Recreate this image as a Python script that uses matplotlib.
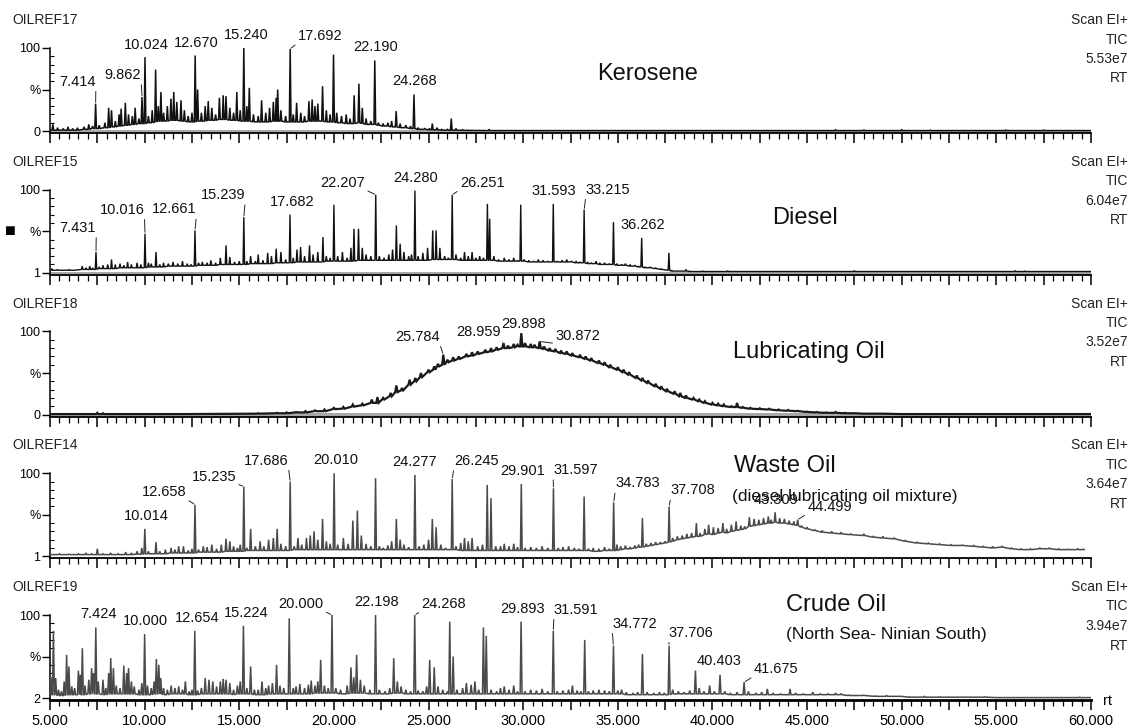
import matplotlib
matplotlib.use('Agg')
import matplotlib.pyplot as plt
from matplotlib.ticker import MultipleLocator, FuncFormatter

plt.rcParams['font.family'] = ['Liberation Sans', 'DejaVu Sans']

W, H = 1133, 727

# ---- data: retention time, local baseline, peak top (% of panel max) ----
kero_rt = [5.00, 5.15, 5.40, 5.70, 5.95, 6.20, 6.45, 6.80, 7.05, 7.25, 7.41, 7.60, 7.90, 8.10, 8.25,
           8.45, 8.65, 8.76, 8.98, 9.15, 9.35, 9.50, 9.70, 9.86, 10.02, 10.20, 10.40, 10.58, 10.72,
           10.86, 11.00, 11.20, 11.39, 11.54, 11.70, 11.92, 12.10, 12.30, 12.50, 12.67, 12.80, 13.00,
           13.20, 13.36, 13.55, 13.75, 13.95, 14.15, 14.30, 14.50, 14.70, 14.87, 15.05, 15.24, 15.40,
           15.53, 15.75, 16.00, 16.18, 16.40, 16.60, 16.80, 16.95, 17.03, 17.20, 17.45, 17.69, 17.85,
           18.03, 18.25, 18.45, 18.68, 18.85, 19.00, 19.15, 19.40, 19.60, 19.80, 19.98, 20.15, 20.40,
           20.65, 20.85, 21.07, 21.32, 21.50, 21.70, 21.95, 22.16, 22.35, 22.60, 22.85, 23.05, 23.29,
           23.50, 23.80, 24.05, 24.23, 24.45, 24.80, 25.05, 25.20, 25.45, 25.70, 26.00, 26.20, 26.45,
           26.80, 28.20, 30.00, 45.00, 46.50, 48.00, 50.00, 51.50, 55.50, 57.50, 60.00]
kero_base = [1, 1, 1, 1, 1, 1, 1, 2, 2, 3, 3, 3, 4, 4, 5,
             5, 6, 6, 7, 7, 8, 8, 9, 9, 9, 10, 10, 11, 12,
             12, 12, 12, 13, 13, 13, 12, 12, 11, 11, 11, 12, 12,
             12, 13, 13, 13, 14, 14, 14, 13, 13, 13, 12, 12, 12,
             12, 11, 11, 11, 11, 11, 12, 12, 12, 12, 11, 11, 11,
             11, 11, 11, 12, 12, 12, 12, 12, 11, 11, 11, 10, 10,
             9, 9, 9, 10, 9, 8, 8, 8, 7, 6, 6, 5, 5,
             4, 4, 3, 3, 2, 2, 1.5, 1.5, 1.5, 1, 1, 1, 1,
             0.8, 0.5, 0.5, 0.5, 0.5, 0.5, 0.5, 0.5, 0.5, 0.5, 0.5]
kero_top = [1, 8, 4, 3, 5, 3, 4, 5, 8, 6, 33, 7, 10, 28, 25,
            12, 20, 27, 34, 20, 18, 28, 15, 41, 89, 18, 25, 74, 30,
            47, 22, 30, 39, 47, 35, 37, 25, 18, 22, 91, 50, 22,
            30, 36, 28, 20, 40, 43, 42, 28, 22, 47, 25, 100, 30,
            52, 20, 18, 37, 22, 28, 35, 40, 50, 25, 18, 99, 20,
            34, 22, 18, 36, 38, 30, 33, 54, 25, 20, 92, 22, 18,
            20, 15, 43, 57, 28, 15, 12, 85, 10, 9, 10, 12, 24,
            9, 7, 6, 44, 4, 3, 3, 9, 4, 2, 2, 15, 3,
            1.5, 2, 0.5, 0.5, 1.5, 1.2, 1.5, 1, 1.2, 1.2, 0.5]
kero_lab = ['7.414', '9.862', '10.024', '12.670', '15.240', '17.692', '22.190', '24.268']

dies_rt = [5.00, 5.10, 5.40, 5.70, 6.00, 6.30, 6.70, 6.90, 7.10, 7.25, 7.43, 7.60, 7.80, 8.05, 8.25,
           8.45, 8.70, 8.90, 9.10, 9.30, 9.60, 9.80, 10.02, 10.20, 10.35, 10.60, 10.80, 11.00, 11.25,
           11.50, 11.75, 12.00, 12.25, 12.45, 12.66, 12.85, 13.05, 13.30, 13.50, 13.75, 14.00, 14.30,
           14.50, 14.75, 15.00, 15.24, 15.40, 15.60, 15.85, 16.00, 16.25, 16.50, 16.70, 16.95, 17.20,
           17.45, 17.68, 17.85, 18.05, 18.24, 18.45, 18.71, 18.90, 19.15, 19.42, 19.60, 19.80, 20.00,
           20.20, 20.45, 20.70, 20.90, 21.06, 21.30, 21.50, 21.70, 21.95, 22.21, 22.40, 22.65, 22.90,
           23.10, 23.30, 23.50, 23.70, 23.95, 24.10, 24.28, 24.45, 24.70, 24.95, 25.22, 25.40, 25.60,
           25.85, 26.05, 26.25, 26.45, 26.70, 26.90, 27.10, 27.30, 27.50, 27.70, 27.90, 28.11, 28.23,
           28.45, 28.70, 29.00, 29.25, 29.50, 29.70, 29.87, 30.05, 30.30, 30.55, 30.80, 31.05, 31.30,
           31.59, 31.80, 32.05, 32.30, 32.55, 32.80, 33.00, 33.22, 33.40, 33.60, 33.85, 34.05, 34.30,
           34.55, 34.77, 34.95, 35.20, 35.40, 35.65, 35.90, 36.10, 36.26, 36.45, 36.70, 37.00, 37.30,
           37.70, 37.85, 38.10, 38.60, 38.80, 39.50, 40.80, 42.00, 47.50, 48.00, 56.00, 56.50, 60.00]
dies_base = [3, 3, 3, 3, 3, 3, 4, 4, 4, 4, 4, 5, 5, 5, 5,
             5, 6, 6, 6, 6, 6, 6, 6, 7, 7, 7, 7, 7, 8,
             8, 8, 8, 8, 8, 8, 9, 9, 9, 9, 9, 10, 10,
             10, 10, 10, 10, 10, 11, 11, 11, 11, 11, 11, 12, 12,
             12, 12, 12, 13, 13, 13, 13, 13, 13, 13, 14, 14, 14,
             14, 14, 14, 14, 14, 15, 15, 15, 15, 15, 15, 15, 15,
             15, 15, 15, 15, 15, 15, 15, 15, 15, 15, 16, 16, 16,
             16, 16, 16, 16, 15, 15, 15, 15, 15, 15, 15, 15, 15,
             15, 14, 14, 14, 14, 14, 14, 14, 13, 13, 13, 13, 13,
             13, 13, 13, 13, 13, 12, 12, 12, 11, 11, 11, 10, 10,
             10, 10, 9, 9, 9, 8, 8, 7, 7, 6, 6, 5, 4,
             3, 2, 2, 2, 1.5, 1.5, 1.5, 1.5, 1.5, 1.5, 1.5, 1.5, 1.5]
dies_top = [3, 5, 4, 3, 4, 3, 8, 6, 8, 6, 25, 7, 9, 10, 16,
            10, 11, 9, 13, 10, 12, 10, 47, 12, 11, 25, 10, 12, 11,
            13, 11, 14, 11, 10, 51, 12, 13, 12, 15, 12, 18, 33,
            19, 13, 14, 67, 14, 20, 14, 22, 15, 24, 20, 29, 25,
            16, 70, 18, 28, 31, 20, 33, 22, 25, 43, 20, 18, 82,
            20, 25, 18, 30, 53, 53, 30, 22, 20, 94, 20, 18, 22,
            28, 57, 35, 25, 20, 22, 99, 20, 24, 30, 51, 51, 30,
            20, 18, 94, 22, 18, 25, 20, 25, 18, 20, 18, 83, 65,
            20, 16, 18, 16, 18, 15, 82, 16, 15, 14, 16, 15, 14,
            83, 14, 15, 16, 14, 14, 13, 76, 13, 12, 14, 12, 12,
            11, 61, 11, 10, 11, 10, 9, 8, 42, 7, 7, 6, 5,
            24, 3, 2, 4, 2, 2, 2.5, 1.5, 2.5, 1.5, 2.5, 2, 1.5]
dies_lab = ['7.431', '10.016', '12.661', '15.239', '17.682', '22.207', '24.280', '26.251',
            '31.593', '33.215', '36.262']

lube_rt = [5.0, 7.3, 7.5, 7.8, 8.2, 12.0, 15.0, 16.0, 17.0, 17.5, 18.0, 18.5, 19.0, 19.5, 20.0,
           20.5, 21.0, 21.5, 22.0, 22.3, 22.6, 23.0, 23.3, 23.6, 24.0, 24.3, 24.6, 25.0, 25.3, 25.5,
           25.78, 26.0, 26.3, 26.6, 27.0, 27.3, 27.6, 28.0, 28.3, 28.6, 28.96, 29.2, 29.5, 29.7, 29.9,
           30.1, 30.4, 30.6, 30.87, 31.1, 31.4, 31.7, 32.0, 32.3, 32.6, 33.0, 33.3, 33.6, 34.0, 34.3,
           34.6, 35.0, 35.3, 35.6, 36.0, 36.3, 36.6, 37.0, 37.3, 37.6, 38.0, 38.3, 38.6, 39.0, 39.3,
           39.6, 40.0, 40.3, 40.6, 41.0, 41.3, 41.6, 42.0, 42.5, 43.0, 43.5, 44.0, 44.5, 45.0, 45.5,
           46.0, 46.5, 47.0, 47.5, 48.0, 49.0, 50.0, 60.0]
lube_base = [0.5, 0.5, 0.5, 0.5, 0.5, 0.5, 0.8, 1.0, 1.5, 1.5, 2.5, 2.5, 4, 4, 6.5,
             7, 9.5, 11, 14, 14, 18, 22, 27, 29, 36, 40, 45, 51, 54, 58,
             60, 63, 65, 67, 70, 71, 73, 75, 76, 78, 80, 80, 81, 82, 82,
             82, 81, 81, 80, 79, 77, 76, 74, 73, 71, 69, 67, 65, 62, 60,
             57, 54, 51, 48, 44, 41, 38, 34, 31, 28, 25, 22, 20, 18, 16,
             14, 12, 11, 10, 9, 9, 8, 7, 6.5, 6, 5, 4.5, 4, 3, 2.5,
             2, 2, 1.5, 1.5, 1, 1, 0.5, 0.5]
lube_top = [0.5, 0.5, 2, 1.5, 0.5, 0.5, 0.8, 1.5, 2, 2.5, 3, 4, 5, 6, 8,
            9, 12, 13, 18, 21, 20, 26, 35, 32, 42, 44, 50, 54, 58, 61,
            72, 66, 69, 70, 73, 75, 76, 78, 80, 81, 86, 83, 85, 84, 98,
            86, 85, 84, 88, 82, 80, 79, 77, 76, 74, 72, 70, 68, 65, 63,
            60, 57, 54, 51, 47, 44, 41, 37, 34, 31, 28, 26, 23, 20, 18,
            16, 14, 13, 12, 10, 14, 9, 8, 7.5, 7, 6, 5.5, 4.5, 3.5, 3,
            2.5, 3, 2, 1.5, 1, 1, 0.5, 0.5]
lube_lab = ['25.784', '28.959', '29.898', '30.872']

waste_rt = [5.00, 5.50, 6.00, 6.50, 6.90, 7.20, 7.50, 7.80, 8.20, 8.60, 9.00, 9.30, 9.60, 9.85, 10.01,
            10.20, 10.60, 10.80, 11.10, 11.40, 11.60, 11.80, 12.05, 12.30, 12.50, 12.66, 12.85, 13.10,
            13.30, 13.55, 13.80, 14.05, 14.30, 14.50, 14.70, 14.90, 15.05, 15.24, 15.40, 15.60, 15.85,
            16.10, 16.30, 16.55, 16.80, 17.00, 17.20, 17.45, 17.69, 17.90, 18.10, 18.30, 18.55, 18.75,
            18.95, 19.15, 19.40, 19.60, 19.80, 20.01, 20.20, 20.50, 20.75, 21.00, 21.24, 21.45, 21.70,
            21.95, 22.20, 22.40, 22.60, 22.85, 23.05, 23.30, 23.50, 23.70, 23.95, 24.28, 24.50, 24.75,
            25.00, 25.20, 25.40, 25.65, 25.90, 26.25, 26.45, 26.70, 26.90, 27.10, 27.30, 27.60, 27.85,
            28.10, 28.30, 28.55, 28.80, 29.00, 29.25, 29.50, 29.70, 29.90, 30.10, 30.40, 30.70, 31.00,
            31.30, 31.60, 31.85, 32.10, 32.40, 32.70, 32.95, 33.22, 33.45, 33.70, 34.00, 34.30, 34.55,
            34.78, 34.95, 35.15, 35.40, 35.65, 35.90, 36.10, 36.30, 36.50, 36.75, 37.00, 37.25, 37.50,
            37.71, 37.90, 38.15, 38.40, 38.65, 38.90, 39.15, 39.35, 39.60, 39.80, 40.05, 40.30, 40.55,
            40.75, 41.00, 41.25, 41.50, 41.70, 41.95, 42.20, 42.45, 42.70, 42.95, 43.10, 43.31, 43.55,
            43.80, 44.05, 44.30, 44.50, 44.70, 45.00, 45.40, 45.80, 46.30, 46.80, 47.30, 48.00, 48.50,
            49.00, 49.60, 50.20, 50.80, 51.40, 52.00, 52.60, 53.20, 53.80, 54.30, 54.80, 55.30, 55.80,
            56.30, 56.80, 57.30, 57.80, 58.30, 58.80, 59.30, 59.60]
waste_base = [2, 2, 2, 2, 2, 2, 2, 2, 2, 2, 2, 2, 2.5, 2.5, 3,
              3, 3, 3, 3, 4, 4, 4, 4, 4, 4, 4, 5, 5,
              5, 5, 5, 5, 6, 6, 6, 6, 6, 6, 7, 7, 7,
              7, 7, 7, 7, 7, 7, 7, 7, 8, 8, 8, 8, 8,
              8, 8, 8, 8, 8, 8, 8, 8, 8, 8, 8, 8, 8,
              8, 8, 8, 8, 8, 8, 8, 8, 8, 8, 8, 8, 8,
              8, 8, 8, 8, 8, 8, 8, 7, 7, 7, 7, 7, 7,
              7, 7, 7, 7, 7, 7, 7, 7, 7, 7, 7, 7, 7,
              7, 7, 7, 7, 7, 7, 7, 7, 7, 6, 6, 7, 7,
              7, 7, 8, 9, 9, 10, 11, 11, 12, 13, 14, 15, 16,
              17, 18, 20, 21, 22, 23, 24, 24, 26, 27, 26, 28, 29,
              28, 30, 31, 32, 33, 36, 37, 38, 39, 40, 40, 41, 40,
              40, 39, 38, 37, 35, 33, 31, 29, 28, 27, 26, 25, 23,
              22, 21, 18, 16, 15, 14, 13, 13, 12, 11, 10, 11, 9,
              8, 8, 9, 9, 8, 8, 8, 8]
waste_top = [2, 3, 2.5, 3, 4, 3, 9, 3, 4, 3, 5, 4, 6, 10, 33,
             6, 17, 6, 8, 10, 8, 12, 12, 7, 9, 62, 8, 12,
             11, 14, 9, 14, 21, 18, 12, 10, 14, 84, 10, 33, 12,
             18, 12, 20, 22, 33, 15, 12, 90, 12, 22, 14, 22, 25,
             30, 20, 45, 18, 15, 100, 14, 22, 15, 43, 55, 25, 15,
             12, 94, 12, 10, 13, 18, 45, 20, 14, 11, 98, 12, 14,
             20, 45, 35, 14, 10, 93, 12, 16, 22, 18, 22, 12, 14,
             86, 70, 12, 12, 15, 12, 15, 11, 87, 10, 11, 10, 12,
             10, 82, 10, 11, 12, 10, 9, 72, 9, 10, 9, 11, 9,
             65, 14, 12, 13, 11, 13, 14, 46, 15, 16, 17, 17, 18,
             60, 22, 24, 25, 27, 28, 40, 28, 33, 38, 35, 34, 40,
             33, 38, 42, 37, 36, 47, 45, 44, 46, 48, 44, 53, 46,
             45, 43, 42, 44, 37, 35, 32, 31, 30, 29, 27, 27, 24,
             24, 22, 19, 17, 16, 15, 14, 13.5, 13, 12, 12, 12, 10,
             9, 9, 10, 10, 9, 8.5, 9, 8.5]
waste_lab = ['10.014', '12.658', '15.235', '17.686', '20.010', '24.277', '26.245', '29.901',
             '31.597', '34.783', '37.708', '43.309', '44.499']

crude_rt = [5.05, 5.18, 5.30, 5.45, 5.60, 5.75, 5.88, 6.00, 6.15, 6.30, 6.50, 6.60, 6.71, 6.85, 7.05,
            7.20, 7.30, 7.42, 7.55, 7.80, 7.95, 8.10, 8.21, 8.35, 8.50, 8.70, 8.90, 9.05, 9.15, 9.30,
            9.45, 9.70, 9.85, 10.00, 10.15, 10.35, 10.50, 10.62, 10.75, 10.85, 11.00, 11.20, 11.40,
            11.60, 11.80, 12.00, 12.15, 12.35, 12.50, 12.65, 12.80, 13.00, 13.20, 13.40, 13.60, 13.80,
            14.00, 14.15, 14.30, 14.50, 14.70, 14.90, 15.05, 15.22, 15.40, 15.60, 15.80, 16.00, 16.20,
            16.40, 16.55, 16.75, 16.97, 17.15, 17.35, 17.64, 17.85, 18.00, 18.20, 18.45, 18.65, 18.80,
            19.00, 19.15, 19.30, 19.50, 19.70, 19.90, 20.10, 20.35, 20.70, 20.90, 21.05, 21.20, 21.40,
            21.60, 21.90, 22.20, 22.40, 22.70, 22.95, 23.16, 23.35, 23.55, 23.80, 24.05, 24.27, 24.45,
            24.70, 24.90, 25.06, 25.30, 25.50, 25.75, 26.00, 26.12, 26.30, 26.50, 26.80, 27.00, 27.25,
            27.45, 27.65, 27.90, 28.05, 28.30, 28.60, 28.80, 29.00, 29.25, 29.50, 29.70, 29.89, 30.10,
            30.40, 30.70, 31.00, 31.30, 31.59, 31.80, 32.10, 32.40, 32.60, 32.85, 33.05, 33.25, 33.45,
            33.70, 34.00, 34.30, 34.55, 34.77, 35.00, 35.20, 35.45, 35.80, 36.05, 36.30, 36.55, 36.90,
            37.20, 37.45, 37.71, 37.90, 38.20, 38.50, 38.80, 39.10, 39.30, 39.55, 39.85, 40.10, 40.40,
            40.65, 40.95, 41.30, 41.67, 41.90, 42.30, 42.60, 42.90, 43.20, 43.60, 44.10, 44.40, 44.80,
            45.30, 45.70, 46.10, 46.50, 46.80, 47.20, 48.00, 48.60, 49.20, 50.00, 50.40, 51.20, 52.00,
            53.50, 54.40, 55.00, 59.00, 59.40, 60.00]
crude_base = [4, 4, 4, 3, 3, 3, 4, 4, 4, 4, 4, 4, 4, 4, 5,
              5, 5, 5, 5, 4, 4, 5, 5, 5, 5, 5, 5, 5, 5, 5,
              5, 4, 4, 4, 4, 4, 5, 5, 5, 5, 4, 4, 5,
              5, 5, 5, 5, 4, 4, 4, 4, 5, 5, 5, 5, 5,
              5, 5, 5, 5, 4, 5, 5, 5, 5, 5, 4, 4, 4,
              4, 5, 5, 5, 5, 5, 5, 5, 5, 5, 5, 5, 5,
              6, 6, 6, 6, 6, 6, 6, 5, 5, 6, 6, 6, 6,
              6, 5, 5, 5, 5, 5, 6, 6, 6, 5, 5, 5, 5,
              5, 5, 5, 5, 5, 5, 5, 5, 5, 5, 5, 5, 5,
              5, 5, 5, 5, 5, 5, 5, 5, 5, 5, 5, 5, 5,
              5, 5, 5, 5, 5, 5, 5, 5, 5, 5, 5, 5, 5,
              5, 5, 5, 5, 5, 5, 5, 4, 4, 4, 4, 4, 4,
              4, 4, 4, 5, 5, 5, 5, 5, 5, 5, 5, 5, 5,
              5, 4, 4, 4, 4, 4, 4, 4, 4, 4, 4, 4, 4,
              4, 4, 4, 4, 4, 3, 3, 2, 2, 2, 1, 1, 1,
              1, 1, 0.5, 0.5, 0.5, 0.5]
crude_top = [25, 81, 24, 10, 8, 20, 52, 38, 14, 12, 33, 28, 60, 15, 22,
             36, 30, 85, 20, 22, 12, 30, 48, 36, 15, 12, 39, 30, 36, 20,
             14, 10, 18, 77, 15, 12, 20, 47, 40, 24, 12, 10, 15,
             12, 14, 10, 20, 8, 10, 81, 9, 12, 24, 22, 20, 14,
             20, 23, 22, 18, 10, 15, 20, 87, 12, 38, 10, 10, 20,
             12, 15, 18, 40, 15, 12, 96, 12, 14, 17, 12, 16, 21,
             15, 20, 46, 15, 12, 100, 12, 10, 15, 37, 25, 52, 22,
             15, 10, 100, 10, 8, 12, 48, 20, 14, 10, 8, 100, 9,
             8, 14, 46, 37, 14, 10, 8, 92, 50, 10, 12, 18, 16,
             20, 10, 85, 75, 10, 8, 12, 14, 10, 15, 8, 92, 8,
             10, 9, 11, 8, 81, 8, 9, 10, 15, 9, 8, 70, 8,
             9, 10, 9, 8, 63, 9, 10, 7, 6, 7, 53, 7, 6,
             7, 6, 63, 10, 8, 7, 9, 33, 12, 8, 15, 8, 28,
             8, 6, 7, 19, 8, 6, 7, 11, 6, 5, 11, 6, 5,
             7, 5, 5, 6, 5, 3.5, 3.5, 2.5, 3, 2, 1.5, 2, 1.5,
             1, 1.5, 0.5, 0.5, 1, 0.5]
crude_lab = ['7.424', '10.000', '12.654', '15.224', '20.000', '22.198', '24.268', '29.893',
             '31.591', '34.772', '37.706', '40.403', '41.675']

codes = ['OILREF17', 'OILREF15', 'OILREF18', 'OILREF14', 'OILREF19']
tic = ['5.53e7', '6.04e7', '3.52e7', '3.64e7', '3.94e7']
base_tick = ['0', '1', '0', '1', '2']

# ---- layout (pixels): label offsets (dx, dy) from the peak top, leader flag ----
kero_off = [(-18, 15, 1), (-19, 15, 1), (1, 5, 0), (1, 5, 0), (2, 6, 0), (30, 6, 1), (1, 6, 0), (1, 6, 0)]
dies_off = [(-18, 17, 1), (-23, 17, 1), (-21, 14, 1), (-21, 15, 1), (2, 6, 0), (-33, 5, 1), (1, 6, 0),
            (30, 5, 1), (1, 6, 0), (24, 13, 1), (1, 6, 0)]
lube_off = [(-26, 11, 1), (-25, 4, 1), (2, 2, 0), (38, -2, 1)]
waste_off = [(1, 6, 0), (-31, 6, 1), (-30, 3, 1), (-24, 14, 1), (2, 6, 0), (0, 6, 0), (24, 11, 1),
             (1, 6, 0), (22, 11, 1), (24, 12, 1), (24, 9, 1), (1, 5, 0), (32, 6, 1)]
crude_off = [(3, 6, 0), (1, 6, 0), (2, 6, 0), (3, 6, 0), (-31, 4, 1), (1, 6, 0), (29, 4, 1),
             (1, 6, 0), (23, 14, 1), (21, 15, 1), (22, 6, 1), (-1, 7, 0), (32, 6, 1)]

panels = [
    dict(rt=kero_rt, base=kero_base, top=kero_top, lab=kero_lab, off=kero_off, color='#111111',
         w=0.045, lw=1.1, band=True, name=[('Kerosene', 648, 74, 17)]),
    dict(rt=dies_rt, base=dies_base, top=dies_top, lab=dies_lab, off=dies_off, color='#111111',
         w=0.04, lw=1.0, band=True, name=[('Diesel', 805, 218, 17)]),
    dict(rt=lube_rt, base=lube_base, top=lube_top, lab=lube_lab, off=lube_off, color='#1a1a1a',
         w=0.06, lw=1.6, band=True, name=[('Lubricating Oil', 809, 352, 17)]),
    dict(rt=waste_rt, base=waste_base, top=waste_top, lab=waste_lab, off=waste_off, color='#4a4a4a',
         w=0.045, lw=1.1, band=False,
         name=[('Waste Oil', 785, 466, 17), ('(diesel lubricating oil mixture)', 845, 496, 12.5)]),
    dict(rt=crude_rt, base=crude_base, top=crude_top, lab=crude_lab, off=crude_off, color='#4a4a4a',
         w=0.05, lw=1.1, band=False,
         name=[('Crude Oil', 836, 605, 17), ('(North Sea- Ninian South)', 886, 635, 12.5)]),
]


def trace_xy(rt, base, top, w):
    xs, ys = [], []
    for r, b, t in zip(rt, base, top):
        if t > b:
            xs += [r - w, r, r + w]
            ys += [b, t, b]
        else:
            xs.append(r)
            ys.append(b)
    return xs, ys


def fx(x):
    return x / W


def fy(y):
    return 1 - y / H


fig = plt.figure(figsize=(W / 100, H / 100), dpi=100)
x0, x1 = 50, 1091

for k, p in enumerate(panels):
    y0 = 20 + k * 141.75
    top_px = y0 + 28
    bot_px = y0 + 113
    ax = fig.add_axes([fx(x0), fy(bot_px), (x1 - x0) / W, (bot_px - top_px) / H])
    ax.set_facecolor('none')
    ax.set_xlim(5, 60)
    ax.set_ylim(-2.4, 100)
    for s in ['top', 'right']:
        ax.spines[s].set_visible(False)
    ax.spines['bottom'].set_linewidth(2.0 if k == 4 else 1.3)
    ax.spines['left'].set_linewidth(1.1)
    ax.spines['left'].set_bounds(-2.4, 100)

    if p['band']:
        ax.axhspan(-2.4, 1.4, color='#a8a8a8', lw=0, zorder=1)

    xs, ys = trace_xy(p['rt'], p['base'], p['top'], p['w'])
    ax.plot(xs, ys, color=p['color'], lw=p['lw'], zorder=3, solid_joinstyle='miter')

    # peak labels
    for lab, (dx, dy, lead) in zip(p['lab'], p['off']):
        v = float(lab)
        i = min(range(len(p['rt'])), key=lambda j: abs(p['rt'][j] - v))
        xy = (p['rt'][i], p['top'][i])
        kw = {}
        if lead:
            kw['arrowprops'] = dict(arrowstyle='-', lw=0.7, color='#222222', shrinkA=0, shrinkB=1,
                                    relpos=(1, 0) if dx < 0 else (0, 0))
        ax.annotate(lab, xy=xy, xytext=(dx * 0.72, dy * 0.72), textcoords='offset points',
                    ha='center', va='bottom', fontsize=10.5, color='#111111', **kw)

    # axes ticks
    ax.xaxis.set_major_locator(MultipleLocator(2.5))
    ax.xaxis.set_minor_locator(MultipleLocator(0.5))
    ax.tick_params(axis='x', which='major', length=7, width=1.1, direction='out', pad=3)
    ax.tick_params(axis='x', which='minor', length=4, width=0.9, direction='out')
    if k == 4:
        ax.xaxis.set_major_formatter(FuncFormatter(
            lambda v, pos: '%.3f' % v if abs(v / 5 - round(v / 5)) < 1e-6 else ''))
        ax.tick_params(axis='x', labelsize=10.5)
    else:
        ax.tick_params(axis='x', labelbottom=False)

    ax.set_yticks([0, 50, 100])
    ax.set_yticklabels([base_tick[k], '%', '100'])
    ax.set_yticks([10, 20, 30, 40, 60, 70, 80, 90], minor=True)
    ax.tick_params(axis='y', which='major', length=6, width=1, direction='out', pad=1, labelsize=9)
    ax.tick_params(axis='y', which='minor', length=3, width=0.8, direction='in')

    # panel texts
    fig.text(fx(12), fy(y0), codes[k], fontsize=10, ha='left', va='center', color='#222222')
    for j, t in enumerate(['Scan EI+', 'TIC', tic[k], 'RT']):
        fig.text(fx(1128), fy(y0 + j * 19.5), t, fontsize=10, ha='right', va='center', color='#222222')
    for t, tx, ty, fs in p['name']:
        fig.text(fx(tx), fy(ty), t, fontsize=fs, ha='center', va='center', color='#111111')

# marker next to the diesel % tick and the axis name
fig.text(fx(10), fy(20 + 141.75 + 28 + 41.5), '\u25a0', fontsize=13, ha='center', va='center')
fig.text(fx(1103), fy(701), 'rt', fontsize=10.5, ha='left', va='center')

fig.savefig('out.png', dpi=100)
